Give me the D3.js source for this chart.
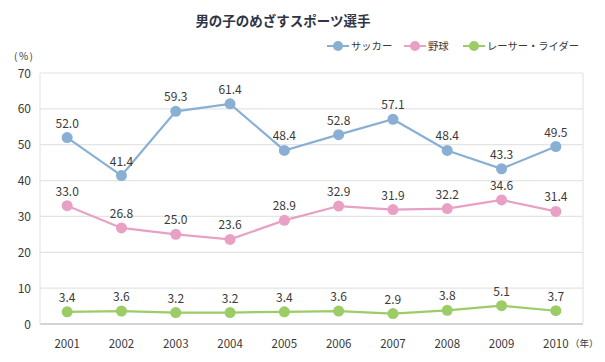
<!DOCTYPE html>
<html>
<head>
<meta charset="utf-8">
<script src="https://cdn.jsdelivr.net/npm/d3@7"></script>
<style>
  body { margin: 0; background: #fff; }
  text { font-family: "Noto Sans CJK JP", "Noto Sans", sans-serif; }
</style>
</head>
<body>
<script>
const years = ["2001", "2002", "2003", "2004", "2005", "2006", "2007", "2008", "2009", "2010"]
const soccer = [52.0, 41.4, 59.3, 61.4, 48.4, 52.8, 57.1, 48.4, 43.3, 49.5]
const baseball = [33.0, 26.8, 25.0, 23.6, 28.9, 32.9, 31.9, 32.2, 34.6, 31.4]
const racer = [3.4, 3.6, 3.2, 3.2, 3.4, 3.6, 2.9, 3.8, 5.1, 3.7]
const seriesNames = ["サッカー", "野球", "レーサー・ライダー"]
const yTicks = [0, 10, 20, 30, 40, 50, 60, 70]

const width = 605
const height = 362
const plotLeft = 40, plotRight = 583, plotTop = 73, plotBottom = 324
const colors = ["#89b0d4", "#e8a1c5", "#9bcc66"]
const textColor = "#3a3a3a"

var svg = d3.select("body").append("svg")
    .attr("width", width)
    .attr("height", height)

var xScale = d3.scalePoint()
    .domain(years)
    .range([plotLeft, plotRight])
    .padding(0.5)
var yScale = d3.scaleLinear()
    .domain([0, 70])
    .range([plotBottom, plotTop])

// title
svg.append("text")
    .attr("x", 283)
    .attr("y", 26)
    .attr("text-anchor", "middle")
    .style("font-size", "13.5px")
    .style("font-weight", "bold")
    .style("fill", "#2f3545")
    .text("男の子のめざすスポーツ選手")

// grid
svg.selectAll(".grid")
    .data(yTicks)
    .enter()
    .append("line")
    .attr("x1", plotLeft)
    .attr("x2", plotRight)
    .attr("y1", d => yScale(d))
    .attr("y2", d => yScale(d))
    .style("stroke", d => d === 0 ? "#d4d4d4" : "#e4e4e4")
    .style("stroke-width", d => d === 0 ? 2 : 1.2)
svg.append("line")
    .attr("x1", plotLeft).attr("x2", plotLeft)
    .attr("y1", plotTop).attr("y2", plotBottom)
    .style("stroke", "#e4e4e4")
    .style("stroke-width", 1.2)
svg.append("line")
    .attr("x1", plotRight).attr("x2", plotRight)
    .attr("y1", plotTop).attr("y2", plotBottom)
    .style("stroke", "#e4e4e4")
    .style("stroke-width", 1.2)

// y axis labels
svg.selectAll(".ylab")
    .data(yTicks)
    .enter()
    .append("text")
    .attr("x", 31)
    .attr("y", d => yScale(d) + 4.5)
    .attr("text-anchor", "end")
    .style("font-size", "12px")
    .style("fill", textColor)
    .text(d => d)
svg.append("text")
    .attr("x", 14)
    .attr("y", 60)
    .style("font-size", "10px")
    .style("letter-spacing", "1.5px")
    .style("fill", textColor)
    .text("(%)")

// x axis labels
svg.selectAll(".xlab")
    .data(years)
    .enter()
    .append("text")
    .attr("x", d => xScale(d))
    .attr("y", 348)
    .attr("text-anchor", "middle")
    .style("font-size", "11.5px")
    .style("fill", textColor)
    .text(d => d)
svg.append("text")
    .attr("x", 570)
    .attr("y", 347)
    .style("font-size", "9.5px")
    .style("fill", textColor)
    .text("（年）")

var allSeries = [soccer, baseball, racer]
var line = d3.line()
    .x((d, i) => xScale(years[i]))
    .y(d => yScale(d))

allSeries.forEach((vals, s) => {
    svg.append("path")
        .attr("d", line(vals))
        .style("fill", "none")
        .style("stroke", colors[s])
        .style("stroke-width", 2.2)
    svg.selectAll(".pt" + s)
        .data(vals)
        .enter()
        .append("circle")
        .attr("cx", (d, i) => xScale(years[i]))
        .attr("cy", d => yScale(d))
        .attr("r", 5.5)
        .style("fill", colors[s])
    svg.selectAll(".lab" + s)
        .data(vals)
        .enter()
        .append("text")
        .attr("x", (d, i) => xScale(years[i]))
        .attr("y", d => yScale(d) - 10)
        .attr("text-anchor", "middle")
        .style("font-size", "12px")
        .style("fill", textColor)
        .text(d => d.toFixed(1))
})

// legend
var legendX = [327, 404, 463]
seriesNames.forEach((name, s) => {
    var g = svg.append("g").attr("transform", "translate(" + legendX[s] + ",46)")
    g.append("line")
        .attr("x1", 0).attr("x2", 22)
        .style("stroke", colors[s])
        .style("stroke-width", 2)
    g.append("circle")
        .attr("cx", 11)
        .attr("r", 5)
        .style("fill", colors[s])
    g.append("text")
        .attr("x", 24)
        .attr("y", 4)
        .style("font-size", "10.3px")
        .style("fill", textColor)
        .text(name)
})
</script>
</body>
</html>
